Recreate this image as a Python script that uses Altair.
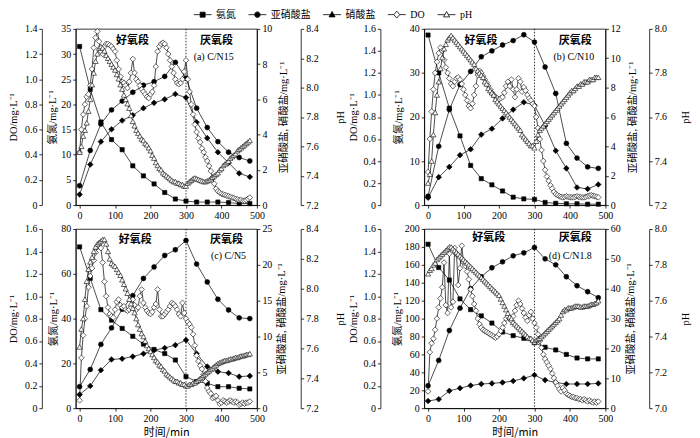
import altair as alt
import pandas as pd

SERIF = "Liberation Serif, Noto Sans CJK SC"
CJK = "Noto Sans CJK SC"

T30 = [0, 30, 60, 90, 120, 150, 180, 210, 240, 270, 300, 330, 360, 390, 420, 450, 480]
T5 = list(range(0, 485, 5))

# ---------- (a) C/N15 ----------
A_NH4 = [31.5, 23, 16.5, 13, 11, 7.8, 5.8, 4.2, 2.5, 1.2, 0.8, 0.6, 0.6, 0.6, 0.5, 0.3, 0.3]
A_NO2 = [1.1, 3.1, 4.6, 5.4, 5.9, 6.4, 6.8, 7.0, 7.3, 8.1, 7.2, 5.5, 4.4, 3.6, 3.0, 2.7, 2.5]
A_NO3 = [0.6, 2.3, 3.6, 4.3, 4.8, 5.1, 5.5, 5.8, 6.0, 6.3, 6.1, 4.7, 3.8, 3.0, 2.4, 1.8, 1.6]
A_DO = [0.42, 0.60, 0.72, 0.80, 0.86, 0.88, 0.95, 1.08, 1.25, 1.33,
        1.38, 1.30, 1.22, 1.20, 1.26, 1.28, 1.28, 1.27, 1.26, 1.24,
        1.22, 1.15, 1.08, 1.02, 0.98, 0.97, 0.95, 0.93, 0.98, 1.05,
        1.16, 1.05, 1.00, 0.98, 0.95, 0.92, 0.90, 0.88, 0.86, 0.85,
        0.88, 0.90, 0.95, 1.10, 1.22, 1.26, 1.28, 1.29, 1.28, 1.25,
        1.20, 1.15, 1.10, 1.05, 1.00, 0.97, 0.96, 0.97, 1.00, 1.06,
        1.15, 1.00, 0.90, 0.80, 0.72, 0.64, 0.58, 0.53, 0.50, 0.45,
        0.42, 0.38, 0.35, 0.31, 0.27, 0.22, 0.17, 0.13, 0.11, 0.10,
        0.09, 0.085, 0.08, 0.075, 0.07, 0.065, 0.06, 0.055, 0.05, 0.045,
        0.04, 0.04, 0.035, 0.035, 0.04, 0.05, 0.06]
A_PH = [7.56, 7.60, 7.67, 7.71, 7.76, 7.84, 7.92, 8.02, 8.10, 8.18,
        8.23, 8.27, 8.28, 8.27, 8.25, 8.22, 8.20, 8.18, 8.16, 8.14,
        8.12, 8.09, 8.06, 8.02, 7.99, 7.95, 7.92, 7.89, 7.86, 7.81,
        7.77, 7.74, 7.71, 7.69, 7.67, 7.65, 7.64, 7.62, 7.61, 7.59,
        7.57, 7.54, 7.52, 7.49, 7.47, 7.45, 7.44, 7.42, 7.41, 7.40,
        7.39, 7.38, 7.37, 7.36, 7.36, 7.35, 7.35, 7.34, 7.34, 7.33,
        7.33, 7.35, 7.36, 7.37, 7.38, 7.385, 7.38, 7.375, 7.37, 7.365,
        7.36, 7.36, 7.365, 7.37, 7.38, 7.39, 7.40, 7.41, 7.42, 7.44,
        7.45, 7.47, 7.48, 7.49, 7.50, 7.52, 7.53, 7.54, 7.55, 7.57,
        7.58, 7.59, 7.60, 7.61, 7.62, 7.63, 7.64]

# ---------- (b) C/N10 ----------
B_NH4 = [38.6, 30, 22, 15.7, 9, 6, 4.6, 3.2, 1.8, 1.4, 1.3, 0.6, 0.4, 0.3, 0.3, 0.2, 0.2]
B_NO2 = [0.6, 4.0, 6.5, 8.2, 9.1, 10.1, 10.5, 10.9, 11.2, 11.6, 11.1, 9.4, 7.6, 4.2, 3.2, 2.6, 2.5]
B_NO3 = [0.5, 1.9, 2.6, 3.4, 3.8, 4.8, 5.2, 5.9, 6.5, 7.0, 6.8, 5.4, 3.7, 2.5, 1.2, 1.1, 1.4]
B_DO = [0.30, 0.60, 0.85, 1.05, 1.20, 1.30, 1.38, 1.43, 1.40, 1.32,
        1.25, 1.20, 1.15, 1.10, 1.08, 1.12, 1.15, 1.16, 1.14, 1.10,
        1.05, 1.00, 0.95, 0.90, 0.88, 0.92, 1.00, 1.08, 1.18, 1.22,
        1.20, 1.17, 1.14, 1.11, 1.08, 1.05, 1.02, 1.00, 0.98, 0.97,
        0.96, 0.97, 0.98, 1.02, 1.08, 1.12, 1.08, 1.14, 1.05, 0.98,
        1.05, 1.15, 1.12, 1.03, 1.07, 1.04, 1.00, 0.97, 0.95, 0.92,
        0.90, 0.80, 0.70, 0.60, 0.50, 0.40, 0.32, 0.26, 0.22, 0.18,
        0.15, 0.12, 0.10, 0.09, 0.08, 0.075, 0.07, 0.075, 0.08, 0.075,
        0.07, 0.07, 0.07, 0.075, 0.08, 0.075, 0.07, 0.07, 0.07, 0.075,
        0.08, 0.085, 0.09, 0.085, 0.08, 0.075, 0.07]
B_PH = [7.30, 7.34, 7.40, 7.52, 7.62, 7.70, 7.76, 7.82, 7.87, 7.91,
        7.93, 7.95, 7.96, 7.97, 7.96, 7.95, 7.94, 7.93, 7.92, 7.91,
        7.90, 7.89, 7.88, 7.87, 7.86, 7.85, 7.84, 7.82, 7.81, 7.80,
        7.79, 7.78, 7.76, 7.75, 7.73, 7.72, 7.71, 7.70, 7.68, 7.67,
        7.66, 7.65, 7.64, 7.63, 7.62, 7.61, 7.60, 7.59, 7.58, 7.57,
        7.56, 7.55, 7.54, 7.52, 7.51, 7.50, 7.49, 7.48, 7.47, 7.47,
        7.46, 7.49, 7.52, 7.54, 7.55, 7.56, 7.57, 7.58, 7.59, 7.60,
        7.61, 7.62, 7.63, 7.64, 7.65, 7.66, 7.67, 7.68, 7.69, 7.70,
        7.71, 7.72, 7.72, 7.73, 7.74, 7.74, 7.75, 7.75, 7.76, 7.76,
        7.76, 7.77, 7.77, 7.77, 7.78, 7.78, 7.78]

# ---------- (c) C/N5 ----------
C_NH4 = [72, 58, 44, 39.3, 35.6, 32.1, 28.6, 26.2, 24.4, 21.5, 14.1, 11.9, 11.1, 9.6, 9.6, 8.9, 8.6]
C_NO2 = [3.0, 5.4, 8.9, 11.2, 13.8, 15.7, 18.1, 19.7, 21.3, 22.1, 23.4, 20.1, 17.6, 15.2, 13.7, 12.6, 12.5]
C_NO3 = [1.9, 3.1, 5.3, 6.8, 6.9, 7.2, 7.6, 8.1, 8.4, 8.8, 9.5, 7.6, 5.8, 5.1, 4.9, 4.4, 4.5]
C_DO = [0.07, 0.45, 0.65, 0.80, 0.91, 1.08, 1.18, 1.25, 1.32, 1.39,
        1.44, 1.45, 1.43, 1.30, 1.13, 1.00, 0.90, 0.84, 0.82, 0.81,
        0.88, 0.95, 0.97, 0.92, 0.90, 0.91, 0.88, 0.87, 0.88, 0.90,
        0.97, 0.92, 0.88, 0.90, 1.00, 1.06, 0.94, 0.90, 0.87, 0.85,
        0.84, 0.86, 0.90, 0.93, 1.06, 0.88, 0.82, 0.82, 0.84, 0.86,
        0.88, 0.91, 0.94, 0.93, 0.91, 0.88, 0.84, 0.82, 0.94, 0.85,
        0.80, 0.77, 0.75, 0.72, 0.66, 0.56, 0.47, 0.42, 0.38, 0.35,
        0.30, 0.24, 0.18, 0.15, 0.13, 0.09, 0.10, 0.11, 0.07, 0.04,
        0.05, 0.07, 0.06, 0.05, 0.06, 0.07, 0.06, 0.05, 0.06, 0.05,
        0.03, 0.04, 0.05, 0.04, 0.05, 0.05, 0.06]
C_PH = [7.61, 7.73, 7.80, 7.93, 8.05, 8.13, 8.18, 8.21, 8.25, 8.28,
        8.30, 8.31, 8.32, 8.33, 8.33, 8.30, 8.25, 8.20, 8.17, 8.16,
        8.15, 8.13, 8.11, 8.09, 8.06, 8.03, 8.00, 7.97, 7.93, 7.90,
        7.87, 7.84, 7.80, 7.76, 7.73, 7.70, 7.68, 7.65, 7.62, 7.60,
        7.58, 7.56, 7.54, 7.52, 7.51, 7.49, 7.48, 7.46, 7.45, 7.43,
        7.42, 7.41, 7.40, 7.39, 7.38, 7.38, 7.37, 7.37, 7.36, 7.36,
        7.35, 7.35, 7.36, 7.36, 7.37, 7.37, 7.38, 7.39, 7.40, 7.41,
        7.42, 7.43, 7.44, 7.45, 7.46, 7.47, 7.48, 7.49, 7.50, 7.505,
        7.51, 7.515, 7.52, 7.52, 7.525, 7.53, 7.53, 7.535, 7.54, 7.54,
        7.545, 7.55, 7.55, 7.555, 7.56, 7.56, 7.565]

# ---------- (d) C/N1.8 ----------
D_NH4 = [183, 157, 143, 122, 110, 103, 95, 85, 81, 78, 73, 68, 65, 60, 56, 55, 55]
D_NO2 = [7.5, 16, 26, 33.5, 40, 44, 47, 49, 51, 52, 53.8, 50, 48, 44, 41, 39, 37]
D_NO3 = [2.4, 3.0, 5.8, 6.7, 7.6, 8.1, 8.3, 8.6, 9.1, 10.0, 11.1, 9.4, 8.6, 8.1, 8.1, 8.1, 8.3]
D_DO = [0.15, 0.50, 0.58, 0.62, 0.70, 0.80, 0.90, 0.98, 1.08, 1.30,
        0.92, 0.85, 1.38, 0.90, 0.95, 1.43, 1.38, 1.10, 1.25, 1.45,
        1.30, 1.27, 1.22, 1.15, 1.06, 1.00, 0.93, 0.87, 0.80, 0.75,
        0.72, 0.70, 0.69, 0.68, 0.67, 0.66, 0.65, 0.64, 0.63, 0.64,
        0.66, 0.69, 0.72, 0.76, 0.80, 0.82, 0.80, 0.78, 0.82, 0.87,
        0.92, 0.96, 0.93, 0.89, 0.85, 0.81, 0.78, 0.83, 0.86, 0.80,
        0.76, 0.72, 0.66, 0.60, 0.54, 0.48, 0.44, 0.41, 0.38, 0.35,
        0.31, 0.27, 0.23, 0.20, 0.17, 0.15, 0.18, 0.16, 0.13, 0.12,
        0.11, 0.10, 0.10, 0.09, 0.09, 0.08, 0.08, 0.07, 0.08, 0.07,
        0.06, 0.07, 0.06, 0.05, 0.06, 0.05, 0.06]
D_PH = [7.75, 7.77, 7.78, 7.80, 7.81, 7.83, 7.84, 7.85, 7.86, 7.87,
        7.88, 7.89, 7.90, 7.90, 7.89, 7.88, 7.87, 7.86, 7.85, 7.84,
        7.83, 7.82, 7.81, 7.80, 7.79, 7.78, 7.77, 7.76, 7.75, 7.74,
        7.73, 7.72, 7.71, 7.70, 7.69, 7.68, 7.67, 7.66, 7.65, 7.64,
        7.63, 7.61, 7.59, 7.57, 7.55, 7.53, 7.51, 7.50, 7.48, 7.47,
        7.46, 7.45, 7.44, 7.43, 7.42, 7.41, 7.40, 7.39, 7.39, 7.38,
        7.37, 7.38, 7.385, 7.39, 7.40, 7.41, 7.42, 7.43, 7.44, 7.45,
        7.46, 7.47, 7.48, 7.49, 7.50, 7.52, 7.54, 7.55, 7.55, 7.56,
        7.56, 7.56, 7.565, 7.57, 7.57, 7.57, 7.565, 7.565, 7.57, 7.57,
        7.57, 7.575, 7.58, 7.58, 7.585, 7.59, 7.60]

LEGEND_NAMES = ["氨氮", "亚硝酸盐", "硝酸盐", "DO", "pH"]
X_TICKS = [0, 100, 200, 300, 400, 500]

PANELS = {
    "a": dict(tag="(a) C/N15", nh4=A_NH4, no2=A_NO2, no3=A_NO3, do=A_DO, ph=A_PH,
              nh4_dom=[0, 35], nh4_ticks=[0, 5, 10, 15, 20, 25, 30, 35],
              n_dom=[0, 10], n_ticks=[0, 2, 4, 6, 8, 10],
              do_dom=[0, 1.4], do_ticks=[0, 0.2, 0.4, 0.6, 0.8, 1.0, 1.2, 1.4],
              ph_dom=[7.2, 8.4], ph_ticks=[7.2, 7.4, 7.6, 7.8, 8.0, 8.2, 8.4]),
    "b": dict(tag="(b) C/N10", nh4=B_NH4, no2=B_NO2, no3=B_NO3, do=B_DO, ph=B_PH,
              nh4_dom=[0, 40], nh4_ticks=[0, 10, 20, 30, 40],
              n_dom=[0, 12], n_ticks=[0, 2, 4, 6, 8, 10, 12],
              do_dom=[0, 1.6], do_ticks=[0, 0.2, 0.4, 0.6, 0.8, 1.0, 1.2, 1.4, 1.6],
              ph_dom=[7.2, 8.0], ph_ticks=[7.2, 7.4, 7.6, 7.8, 8.0]),
    "c": dict(tag="(c) C/N5", nh4=C_NH4, no2=C_NO2, no3=C_NO3, do=C_DO, ph=C_PH,
              nh4_dom=[0, 80], nh4_ticks=[0, 20, 40, 60, 80],
              n_dom=[0, 25], n_ticks=[0, 5, 10, 15, 20, 25],
              do_dom=[0, 1.6], do_ticks=[0, 0.2, 0.4, 0.6, 0.8, 1.0, 1.2, 1.4, 1.6],
              ph_dom=[7.2, 8.4], ph_ticks=[7.2, 7.4, 7.6, 7.8, 8.0, 8.2, 8.4]),
    "d": dict(tag="(d) C/N1.8", nh4=D_NH4, no2=D_NO2, no3=D_NO3, do=D_DO, ph=D_PH,
              nh4_dom=[0, 200], nh4_ticks=[0, 20, 40, 60, 80, 100, 120, 140, 160, 180, 200],
              n_dom=[0, 60], n_ticks=[0, 10, 20, 30, 40, 50, 60],
              do_dom=[0, 1.6], do_ticks=[0, 0.2, 0.4, 0.6, 0.8, 1.0, 1.2, 1.4, 1.6],
              ph_dom=[7.0, 8.0], ph_ticks=[7.0, 7.2, 7.4, 7.6, 7.8, 8.0]),
}

# layout / styling (not data)
LAYOUT = {
    "a": dict(do_off=34, do_tp=6, nh_tp=3, n_tp=7, ph_tp=17, aer=149, ana=386, tagx=378, ty=12, tagy=28, h=177, xtitle=None),
    "b": dict(do_off=44, do_tp=4, nh_tp=6, n_tp=7, ph_tp=14, aer=149, ana=415, tagx=411, ty=12, tagy=28, h=177, xtitle=None),
    "c": dict(do_off=34, do_tp=6, nh_tp=2, n_tp=5, ph_tp=17, aer=157, ana=414, tagx=420, ty=11, tagy=27, h=180, xtitle="时间/min"),
    "d": dict(do_off=44, do_tp=4, nh_tp=2, n_tp=5, ph_tp=14, aer=171, ana=415, tagx=401, ty=9, tagy=27, h=180, xtitle="时间/min"),
}

W = 182
LW = 0.7


def xenc(title):
    return alt.X("t:Q", scale=alt.Scale(domain=[-11, 500], nice=False, zero=False),
                 axis=alt.Axis(values=X_TICKS, title=title, titleFont=CJK,
                               titleFontSize=11, titlePadding=3, grid=False, labelOverlap=False,
                               labelFlush=False))


def yaxis(orient, offset, title, ticks, tp, kind):
    kw = dict(orient=orient, offset=offset, title=title, values=ticks, titlePadding=tp,
              grid=False, titleAngle=270, labelOverlap=False)
    if orient == "right":
        kw["titleBaseline"] = "top"
    if kind == "do":
        kw["labelExpr"] = "datum.value == 0 ? '0' : format(datum.value, '.1f')"
    elif kind == "ph":
        kw["format"] = ".1f"
    else:
        kw["format"] = "d"
    return alt.Axis(**kw)


def series(t, v, axis, dom, shape, open_, size, xtitle):
    df = pd.DataFrame({"t": t, "v": v})
    pt = alt.OverlayMarkDef(shape=shape, filled=True, fill="white" if open_ else "black",
                            stroke="black", strokeWidth=0.6, size=size)
    return alt.Chart(df).mark_line(color="black", strokeWidth=LW, point=pt).encode(
        x=xenc(xtitle),
        y=alt.Y("v:Q", scale=alt.Scale(domain=dom, nice=False, zero=False), axis=axis),
    )


LEG_PATHS = [
    "M-1.8,0H-0.5M0.5,0H1.8M-0.5,-0.5H0.5V0.5H-0.5Z",
    "M-1.8,0H-0.55M0.55,0H1.8M-0.55,0A0.55,0.55,0,1,0,0.55,0A0.55,0.55,0,1,0,-0.55,0Z",
    "M-1.8,0H-0.36M0.36,0H1.8M0,-0.65L0.6,0.45L-0.6,0.45Z",
    "M-1.8,0H-0.6M0.6,0H1.8M0,-0.7L0.6,0L0,0.7L-0.6,0Z",
    "M-1.8,0H-0.36M0.36,0H1.8M0,-0.65L0.6,0.45L-0.6,0.45Z",
]
LEG_FILLS = ["black", "black", "black", "white", "white"]
LEG_STROKES = ["black", "black", "black", "black", "black"]


def legend_layer(xt):
    df = pd.DataFrame({"s": LEGEND_NAMES, "t": [0, 0, 0, 0, 0]})
    leg = alt.Legend(orient="none", legendX=122, legendY=-20, direction="horizontal", title=None,
                     symbolSize=100, labelFont=SERIF, labelFontSize=10, labelOffset=8,
                     columnPadding=10, labelColor="black", symbolStrokeWidth=0.8,
                     symbolStrokeColor="black", symbolOpacity=1)
    return alt.Chart(df).mark_point(filled=True, strokeWidth=0.8).encode(
        x=xenc(xt),
        shape=alt.Shape("s:N", scale=alt.Scale(domain=LEGEND_NAMES, range=LEG_PATHS), legend=leg),
        fill=alt.Fill("s:N", scale=alt.Scale(domain=LEGEND_NAMES, range=LEG_FILLS), legend=leg),
        stroke=alt.Stroke("s:N", scale=alt.Scale(domain=LEGEND_NAMES, range=LEG_STROKES), legend=leg),
    ).transform_filter("datum.s == 'none'")


def panel(key):
    p = PANELS[key]
    L = LAYOUT[key]
    xt = L["xtitle"]
    nh_ax = yaxis("left", 0, "氨氮/mg·L⁻¹", p["nh4_ticks"], L["nh_tp"], "n")
    n_ax = yaxis("right", 0, "亚硝酸盐, 硝酸盐/mg·L⁻¹", p["n_ticks"], L["n_tp"], "n")
    do_ax = yaxis("left", L["do_off"], "DO/mg·L⁻¹", p["do_ticks"], L["do_tp"], "do")
    ph_ax = yaxis("right", 44, "pH", p["ph_ticks"], L["ph_tp"], "ph")

    rule = alt.Chart(pd.DataFrame({"t": [300]})).mark_rule(
        color="black", strokeWidth=0.8, strokeDash=[1.5, 1.5]).encode(x=xenc(xt))

    nh = series(T30, p["nh4"], nh_ax, p["nh4_dom"], "square", False, 18, xt)
    nn = alt.layer(
        series(T30, p["no2"], n_ax, p["n_dom"], "circle", False, 24, xt),
        series(T30, p["no3"], n_ax, p["n_dom"], "diamond", False, 32, xt),
    )
    do = series(T5, p["do"], do_ax, p["do_dom"], "diamond", True, 32, xt)
    ph = series(T5, p["ph"], ph_ax, p["ph_dom"], "triangle-up", True, 28, xt)

    def txt(tpos, ypos, s, font, size, weight):
        return alt.Chart(pd.DataFrame({"t": [tpos], "s": [s]})).mark_text(
            font=font, fontSize=size, fontWeight=weight, color="black", align="center", baseline="middle"
        ).encode(x=xenc(xt), y=alt.value(ypos), text="s:N")

    texts = [
        txt(L["aer"], L["ty"], "好氧段", CJK, 11, "bold"),
        txt(L["ana"], L["ty"], "厌氧段", CJK, 11, "bold"),
        txt(L["tagx"], L["tagy"], p["tag"], SERIF, 10, "normal"),
    ]
    layers = [rule, nh, nn, do, ph] + texts
    if key == "a":
        layers.append(legend_layer(xt))
    return alt.layer(*layers).resolve_scale(y="independent").properties(width=W, height=L["h"])


chart = alt.concat(
    panel("a"), panel("b"), panel("c"), panel("d"),
    columns=2, spacing=alt.RowColnumber(row=24, column=168), bounds="flush",
).properties(padding=0).configure_view(
    stroke="black", strokeWidth=0.8
).configure_axis(
    labelFont="Liberation Serif", labelFontSize=10, labelColor="black", labelPadding=2,
    titleFont=SERIF, titleFontSize=10.5, titleFontWeight="normal", titleColor="black",
    domainColor="black", domainWidth=0.8, tickColor="black", tickWidth=0.8, tickSize=3,
)

chart.save("out.html", embed_options={"renderer": "svg", "actions": False})
